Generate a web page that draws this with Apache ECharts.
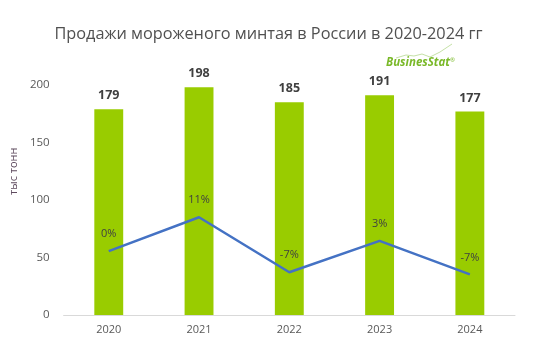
<!DOCTYPE html>
<html><head><meta charset="utf-8">
<script src="https://cdn.jsdelivr.net/npm/echarts@6/dist/echarts.min.js"></script>
<style>html,body{margin:0;padding:0;background:#fff}#c{width:537px;height:362px}</style>
</head><body><div id="c"></div>
<script>
var years = ['2020', '2021', '2022', '2023', '2024'];
var sales = [179, 198, 185, 191, 177];
var growth = [0, 10.6, -6.6, 3.2, -7.3];
var yTicks = [0, 50, 100, 150, 200];

var chart = echarts.init(document.getElementById('c'));
chart.setOption({
  animation: false,
  backgroundColor: '#fff',
  title: {
    text: 'Продажи мороженого минтая в России в 2020-2024 гг',
    left: 'center', top: 21,
    textStyle: {fontFamily: 'Open Sans', fontSize: 16.3, fontWeight: 'normal', color: '#505050'}
  },
  graphic: [
    {type: 'text', left: 386, top: 57, style: {
      text: '{a|BusinesStat}{c|®}',
      rich: {
        a: {fontFamily: 'Open Sans', fontStyle: 'italic', fontWeight: 'bold', fontSize: 11.5, fill: '#7ab929'},
        c: {fontFamily: 'Open Sans', fontSize: 6, fill: '#7ab929', verticalAlign: 'top'}
      }
    }},
    {type: 'polyline', shape: {points: [[396, 58], [406, 55], [414, 56], [422, 54], [430, 57], [440, 52], [452, 44]]},
      style: {stroke: '#b5d88f', lineWidth: 0.8, fill: null}}
  ],
  grid: {left: 61, right: 22, top: 27.5, bottom: 47},
  xAxis: {
    type: 'category', data: years,
    axisLine: {lineStyle: {color: '#d9d9d9', width: 1}},
    axisTick: {show: false},
    axisLabel: {color: '#595959', fontFamily: 'Open Sans', fontSize: 11, margin: 9}
  },
  yAxis: [{
    type: 'value', min: 0, max: 250, interval: 50,
    name: 'тыс тонн', nameLocation: 'middle', nameGap: 38, nameRotate: 90,
    nameTextStyle: {color: '#5f4b5f', fontFamily: 'Open Sans', fontSize: 11},
    splitLine: {show: false}, axisLine: {show: false}, axisTick: {show: false},
    axisLabel: {color: '#595959', fontFamily: 'Open Sans', fontSize: 11.5, margin: 14,
      formatter: function (v) { return yTicks.indexOf(v) >= 0 ? String(v) : ''; }}
  }, {
    type: 'value', min: -20, max: 70, show: false, splitLine: {show: false}
  }],
  series: [{
    type: 'bar', data: sales, barWidth: '32%',
    itemStyle: {color: '#99cc00'},
    label: {show: true, position: 'top', distance: 7, color: '#404040',
      fontFamily: 'Open Sans', fontWeight: 'bold', fontSize: 12.5}
  }, {
    type: 'line', yAxisIndex: 1, data: growth,
    symbol: 'circle', symbolSize: 1, showSymbol: true,
    itemStyle: {color: 'rgba(0,0,0,0)'},
    lineStyle: {color: '#4472c4', width: 2.5},
    label: {show: true, position: 'top', distance: 11, color: '#404040',
      fontFamily: 'Open Sans', fontSize: 11,
      formatter: function (p) { return Math.round(p.value) + '%'; }}
  }]
});
</script></body></html>
